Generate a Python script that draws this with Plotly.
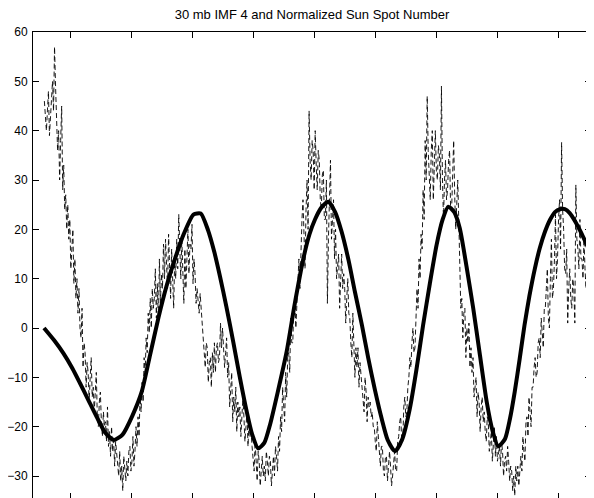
import numpy as np
import plotly.graph_objects as go

# ---- data ----
# IMF 4 (30 mb), smooth component: (year, value)
imf_years = [1957.87, 1958.7, 1959.45, 1960.2, 1960.82, 1961.5, 1962.18, 1962.9, 1963.6, 1964.3,
             1965.1, 1965.87, 1966.55, 1967.23, 1967.9, 1968.6, 1969.3, 1970.1, 1970.7, 1971.3,
             1971.8, 1972.27, 1972.8, 1973.36, 1973.9, 1974.46, 1974.9, 1975.4, 1975.9, 1976.37,
             1977.0, 1977.73, 1978.4, 1979.1, 1979.6, 1980.05, 1980.6, 1981.14, 1981.7, 1982.23,
             1982.8, 1983.32, 1983.9, 1984.41, 1984.95, 1985.5, 1986.0, 1986.6, 1987.2, 1987.8,
             1988.35, 1988.9, 1989.45, 1990.0, 1990.5, 1990.96, 1991.45, 1991.9, 1992.45, 1993.0,
             1993.55, 1994.1, 1994.6, 1995.05, 1995.6, 1996.0, 1996.4, 1996.8, 1997.2, 1997.6,
             1998.05, 1998.45, 1998.87, 1999.3, 1999.69, 2000.1, 2000.5, 2000.9, 2001.3, 2001.9,
             2002.55]
imf_values = [0.0, -2.5, -5.1, -8.2, -11.2, -14.6, -18.0, -21.3, -22.7, -21.6,
              -17.8, -12.9, -5.5, 2.0, 8.5, 14.1, 19.0, 23.0, 23.2, 19.8,
              15.5, 10.5, 4.3, -2.8, -10.0, -16.9, -21.5, -24.4, -23.3, -19.6,
              -13.0, -4.8, 5.0, 14.1, 19.0, 22.0, 24.5, 25.6, 23.5, 19.5,
              13.7, 7.3, 0.5, -6.1, -12.5, -18.3, -22.7, -25.0, -22.5, -16.5,
              -8.5, 0.6, 9.0, 16.8, 22.0, 24.6, 23.5, 20.2, 12.5, 4.0,
              -5.5, -14.9, -21.0, -24.0, -22.5, -18.5, -12.9, -6.3, 0.6, 6.5,
              12.1, 16.2, 19.5, 22.0, 23.5, 24.1, 24.1, 23.3, 21.8, 19.0,
              15.5]

# Normalized sun spot number, monthly samples starting 1957.9
ssn_start = 1957.9
ssn_step = 1.0 / 12.0
ssn_values = [
    46, 42, 40, 44, 48, 39, 43, 47, 50, 44, 57, 49,
    44, 36, 40, 30, 38, 45, 28, 33, 24, 27, 20, 25,
    18, 22, 12, 16, 20, 9, 14, 6, 10, 3, 8, 0,
    -2, 4, -8, -3, -5, -12, -7, -9, -15, -10, -6, -14,
    -12, -17, -14, -9, -18, -20, -15, -13, -19, -22, -17, -20,
    -19, -23, -16, -24, -21, -26, -20, -25, -22, -28, -23, -26,
    -27, -30, -25, -31, -28, -33, -26, -29, -31, -27, -30, -25,
    -24, -29, -27, -22, -28, -25, -20, -24, -18, -22, -14, -17,
    -11, -15, -6, -9, -2, -5, 3, -1, 6, 0, 8, 4,
    6, 12, 2, 9, 1, 14, 5, 11, 8, 17, 10, 18,
    14, 8, 19, 12, 6, 16, 9, 4, 14, 10, 18, 12,
    23, 14, 10, 18, 12, 5, 16, 8, 14, 20, 11, 17,
    16, 21, 9, 14, 11, 5, 8, 6, 3, 7, 4, 1,
    -2, -6, -8, -3, -4, -11, -7, -6, -12, -5, -9, -3,
    -9, -4, -3, -7, -6, 1, -4, 0, -4, -8, -5, -2,
    -10, -7, -16, -12, -9, -19, -14, -17, -12, -21, -15, -18,
    -16, -22, -19, -14, -18, -23, -20, -17, -24, -19, -22, -21,
    -24, -27, -29, -23, -26, -31, -25, -27, -32, -28, -26, -30,
    -28, -31, -25, -27, -30, -26, -27, -32, -29, -26, -30, -24,
    -26, -29, -22, -25, -18, -21, -12, -16, -19, -9, -14, -6,
    -5, -9, 2, -3, -3, 5, 6, 0, 4, 10, 14, 8,
    18, 22, 26, 16, 12, 24, 30, 20, 44, 34, 30, 38,
    36, 28, 40, 33, 28, 36, 34, 26, 24, 31, 32, 22,
    22, 30, 5, 18, 30, 34, 18, 24, 26, 14, 20, 10,
    12, 15, 4, 9, 15, 8, 11, 8, 1, 6, 10, 3,
    2, -3, -6, 3, -2, -10, -4, -8, -4, -12, -7, -10,
    -11, -15, -17, -10, -13, -19, -14, -16, -15, -18, -17, -20,
    -20, -23, -25, -19, -22, -27, -28, -24, -24, -29, -30, -26,
    -26, -31, -28, -25, -28, -32, -30, -27, -25, -29, -29, -23,
    -22, -19, -18, -23, -23, -16, -14, -18, -17, -12, -10, -6,
    -8, -3, 0, -5, -4, 2, 8, 4, 14, 10, 19, 16,
    28, 22, 38, 30, 47, 36, 32, 26, 36, 40, 26, 33,
    40, 32, 30, 37, 35, 28, 49, 30, 22, 30, 34, 26,
    28, 34, 36, 24, 24, 31, 38, 27, 20, 25, 30, 22,
    10, 4, 6, -2, 3, 4, -6, 0, -3, 1, -8, -4,
    -9, -6, -14, -11, -10, -18, -13, -15, -21, -16, -14, -19,
    -17, -21, -23, -18, -19, -25, -22, -21, -27, -23, -20, -26,
    -22, -27, -25, -24, -28, -23, -25, -30, -27, -26, -29, -24,
    -27, -31, -28, -29, -33, -30, -34, -28, -31, -28, -32, -29,
    -26, -29, -22, -25, -27, -19, -18, -22, -14, -17, -20, -12,
    -12, -8, -6, -10, -9, -3, -2, -6, 2, -1, -4, 4,
    4, 8, 12, 2, 0, 10, 18, 6, 8, 14, 23, 10,
    14, 22, 26, 16, 37.6, 24, 20, 12, 11, 16, 1, 8,
    12, 6, 4, 10, 8, 1, 29, 18, 16, 12, 22, 14,
    14, 10, 18, 12, 8, 14, 3, 12, 10,
]
ssn_years = ssn_start + ssn_step * np.arange(len(ssn_values))

x_ticks = [1960, 1965, 1970, 1975, 1980, 1985, 1990, 1995, 2000]
y_ticks = [-30, -20, -10, 0, 10, 20, 30, 40, 50, 60]
title_text = "30 mb IMF 4 and Normalized Sun Spot Number"

# ---- figure ----
fig = go.Figure()
fig.add_trace(go.Scatter(x=ssn_years, y=ssn_values, mode="lines",
                         line=dict(color="black", width=0.9, dash="5px,3px"),
                         showlegend=False, hoverinfo="skip"))
fig.add_trace(go.Scatter(x=imf_years, y=imf_values, mode="lines",
                         line=dict(color="black", width=4, shape="spline", smoothing=0.6),
                         showlegend=False))

font_family = "Liberation Sans, Arial, Helvetica, sans-serif"
# page body has an 8px margin, so the figure is sized/offset to compensate
fig.update_layout(
    width=586, height=491,
    margin=dict(l=25, r=3, t=24, b=0),
    paper_bgcolor="white", plot_bgcolor="white",
    font=dict(family=font_family, size=12, color="black"),
    title=dict(text=title_text, x=0.5, xref="paper", xanchor="center",
               y=1 - 6 / 491, yref="container", yanchor="middle",
               font=dict(family=font_family, size=13, color="black")),
    xaxis=dict(range=[1956.97, 2002.64], tickvals=x_ticks, showticklabels=False,
               ticks="inside", ticklen=6, tickcolor="black", tickwidth=1,
               showline=True, linecolor="black", linewidth=1, mirror="ticks",
               showgrid=False, zeroline=False),
    yaxis=dict(range=[-34.66, 60], tickvals=y_ticks,
               ticks="inside", ticklen=6, tickcolor="black", tickwidth=1,
               showline=True, linecolor="black", linewidth=1, mirror="ticks",
               showgrid=False, zeroline=False, ticklabelstandoff=2,
               tickfont=dict(family=font_family, size=12, color="black")),
)

fig.write_html("out.html")
